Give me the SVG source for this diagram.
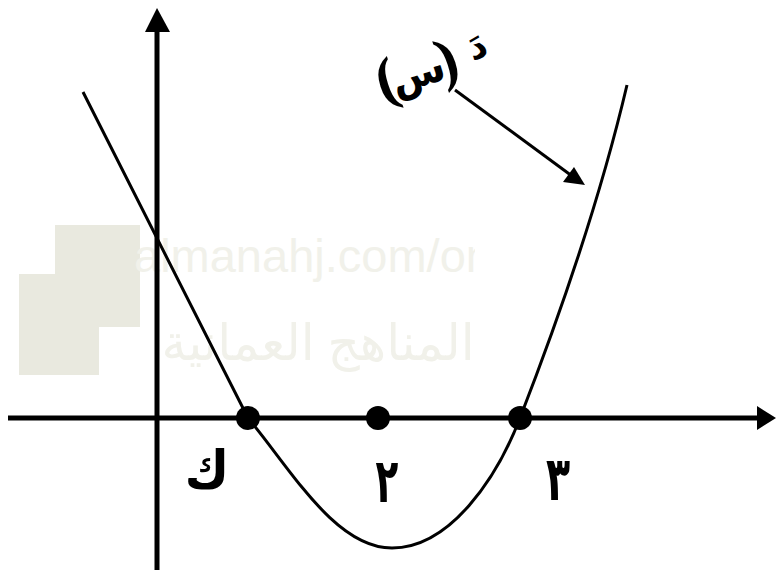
<svg xmlns="http://www.w3.org/2000/svg" width="778" height="574" viewBox="0 0 778 574">
<style>
.axis{stroke:#000;stroke-width:5;fill:none}
.curve{stroke:#000;stroke-width:3;fill:none;stroke-linejoin:round}
.lbl{font-family:"DejaVu Sans","Noto Sans",sans-serif;font-weight:bold;fill:#000}
.par{font-family:"Liberation Serif",serif;font-weight:bold;fill:#000}
.wm{font-family:"Liberation Sans",sans-serif;fill:#f1f1ea}
</style>
<defs>
<clipPath id="wc"><rect x="0" y="0" width="475" height="574"/></clipPath>
</defs>
<rect width="778" height="574" fill="#fff"/>
<g id="watermark">
<rect x="55" y="225" width="85" height="102" fill="#e9e9df"/>
<rect x="19" y="274" width="80" height="101" fill="#e9e9df"/>
<g clip-path="url(#wc)">
<text class="wm" x="134" y="272" font-size="47">almanahj.com/om</text>
<text class="wm" x="318" y="360" font-size="50" text-anchor="middle" style="font-family:'Noto Sans','DejaVu Sans',sans-serif">المناهج العمانية</text>
</g>
</g>
<g id="connectors">
<line class="axis" x1="157" y1="570" x2="157" y2="30"/>
<path d="M145,32 L157,8 L170,32 Z" fill="#000"/>
<line class="axis" x1="8" y1="418" x2="758" y2="418"/>
<path d="M757,406 L776,418 L757,430 Z" fill="#000"/>
<path class="curve" d="M83,92 L248,418 C290,468 335,548 392,548 C450,548 497,478 520,418 C560,315 600,200 627,85"/>
<line x1="455" y1="90" x2="572" y2="176" stroke="#000" stroke-width="3"/>
<path d="M585,185 L563,182 L574,167 Z" fill="#000"/>
</g>
<g id="points">
<circle cx="248" cy="418" r="12" fill="#000"/>
<circle cx="378" cy="418" r="12" fill="#000"/>
<circle cx="520" cy="418" r="12" fill="#000"/>
</g>
<g id="labels">
<g transform="translate(418,75) rotate(-18)">
<text class="par" font-size="60" x="-32" y="14" text-anchor="middle">(</text>
<text class="lbl" font-size="40" x="0" y="12" text-anchor="middle">س</text>
<text class="par" font-size="60" x="32" y="14" text-anchor="middle">)</text>
</g>
<text class="lbl" font-size="36" text-anchor="middle" transform="translate(481,58) rotate(-18)">دَ</text>
<text class="lbl" font-size="44" text-anchor="middle" transform="translate(207,488) scale(1.1,1.2)">ك</text>
<text class="lbl" font-size="44" text-anchor="middle" transform="translate(387,502) scale(0.85,1.4)">٢</text>
<text class="lbl" font-size="44" text-anchor="middle" transform="translate(558,500) scale(0.9,1.4)">٣</text>
</g>
</svg>
